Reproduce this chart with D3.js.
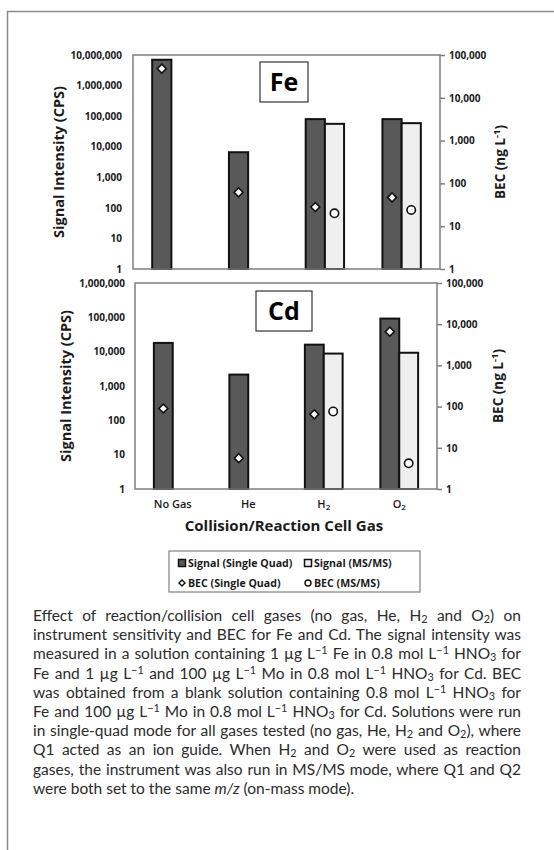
<!DOCTYPE html>
<html>
<head>
<meta charset="utf-8">
<script src="https://cdn.jsdelivr.net/npm/d3@7"></script>
<style>
  html, body { margin: 0; padding: 0; background: #fff; }
  #wrap { position: relative; width: 554px; height: 850px; overflow: hidden; }
  #wrap svg { position: absolute; left: 0; top: 0; }
  #caption {
    position: absolute; left: 33px; top: 606px; width: 488px;
    font-family: Lato, "Noto Sans", sans-serif; font-size: 15.5px;
    line-height: 19.2px; color: #2b2b2b;
  }
  #caption .ln { white-space: nowrap; height: 19.2px; }
  #caption sub, #caption sup { font-size: 0.7em; line-height: 1; }
  #caption sup { vertical-align: 0.5em; }
  #caption sub { vertical-align: -0.2em; }
</style>
</head>
<body>
<div id="wrap"></div>
<script>
// ---- data ----
const categories = ["No Gas", "He", "H2", "O2"];
const modes = ["Single Quad", "MS/MS"];

const feSignalSQ   = [7000000, 6600, 80000, 80000];
const feSignalMSMS = [null, null, 56000, 59000];
const feBecSQ      = [48000, 62, 28, 47];
const feBecMSMS    = [null, null, 20, 24];

const cdSignalSQ   = [18000, 2150, 16000, 92000];
const cdSignalMSMS = [null, null, 8800, 9300];
const cdBecSQ      = [90, 5.6, 65, 6600];
const cdBecMSMS    = [null, null, 76, 4.2];

const feSignalTicks = [1, 10, 100, 1000, 10000, 100000, 1000000, 10000000];
const cdSignalTicks = [1, 10, 100, 1000, 10000, 100000, 1000000];
const becTicks      = [1, 10, 100, 1000, 10000, 100000];

const legendItems = [
  {label: "Signal (Single Quad)", kind: "barSQ"},
  {label: "Signal (MS/MS)", kind: "barMS"},
  {label: "BEC (Single Quad)", kind: "diamond"},
  {label: "BEC (MS/MS)", kind: "circle"}
];

const captionLines = [
  "Effect of reaction/collision cell gases (no gas, He, H<sub>2</sub> and O<sub>2</sub>) on",
  "instrument sensitivity and BEC for Fe and Cd. The signal intensity was",
  "measured in a solution containing 1 µg L<sup>−1</sup> Fe in 0.8 mol L<sup>−1</sup> HNO<sub>3</sub> for",
  "Fe and 1 µg L<sup>−1</sup> and 100 µg L<sup>−1</sup> Mo in 0.8 mol L<sup>−1</sup> HNO<sub>3</sub> for Cd. BEC",
  "was obtained from a blank solution containing 0.8 mol L<sup>−1</sup> HNO<sub>3</sub> for",
  "Fe and 100 µg L<sup>−1</sup> Mo in 0.8 mol L<sup>−1</sup> HNO<sub>3</sub> for Cd. Solutions were run",
  "in single-quad mode for all gases tested (no gas, He, H<sub>2</sub> and O<sub>2</sub>), where",
  "Q1 acted as an ion guide. When H<sub>2</sub> and O<sub>2</sub> were used as reaction",
  "gases, the instrument was also run in MS/MS mode, where Q1 and Q2",
  "were both set to the same <i>m/z</i> (on-mass mode)."
];

// ---- styles ----
const FONT = "'Open Sans', 'Liberation Sans', sans-serif";
const DARK = "#595959", LIGHT = "#efefef", AXIS = "#7f7f7f", TXT = "#1a1a1a";

const wrap = d3.select("#wrap");
const svg = wrap.append("svg").attr("width", 554).attr("height", 850);

// outer frame
svg.append("path")
  .attr("d", "M7.5,850 V11.5 H554")
  .attr("fill", "none").attr("stroke", "#8a8a8a").attr("stroke-width", 1.5);

// subscript helper for gas labels
function gasLabel(sel, name) {
  const m = name.match(/^([A-Z][a-z]?)(\d)$/);
  if (m) {
    sel.append("tspan").text(m[1]);
    sel.append("tspan").text(m[2]).attr("font-size", "0.72em").attr("dy", "0.3em");
  } else {
    sel.text(name);
  }
}

function drawPanel(cfg) {
  const g = svg.append("g");
  const x0 = d3.scaleBand().domain(categories).range([cfg.left, cfg.right])
    .paddingInner(0.5).paddingOuter(0.25);
  const x1 = d3.scaleBand().domain(modes).range([0, x0.bandwidth()]);
  const yS = d3.scaleLog().domain([1, d3.max(cfg.sigTicks)]).range([cfg.bottom, cfg.top]);
  const yB = d3.scaleLog().domain([1, d3.max(becTicks)]).range([cfg.bottom, cfg.top]);

  // bars
  const barData = [];
  categories.forEach((c, i) => {
    if (cfg.sigSQ[i] != null) barData.push({c, m: modes[0], v: cfg.sigSQ[i]});
    if (cfg.sigMS[i] != null) barData.push({c, m: modes[1], v: cfg.sigMS[i]});
  });
  g.selectAll("rect.bar").data(barData).join("rect")
    .attr("class", "bar")
    .attr("x", d => x0(d.c) + x1(d.m))
    .attr("width", x1.bandwidth())
    .attr("y", d => yS(d.v))
    .attr("height", d => yS(1) - yS(d.v))
    .attr("fill", d => d.m === modes[0] ? DARK : LIGHT)
    .attr("stroke", "#111").attr("stroke-width", 2);

  // plot frame
  g.append("rect")
    .attr("x", cfg.left).attr("y", cfg.top)
    .attr("width", cfg.right - cfg.left).attr("height", cfg.bottom - cfg.top)
    .attr("fill", "none").attr("stroke", AXIS).attr("stroke-width", 1.5);

  // BEC markers
  const becSQ = categories.map((c, i) => ({c, v: cfg.becSQ[i]})).filter(d => d.v != null);
  const becMS = categories.map((c, i) => ({c, v: cfg.becMS[i]})).filter(d => d.v != null);
  g.selectAll("path.dia").data(becSQ).join("path")
    .attr("class", "dia")
    .attr("d", d3.symbol(d3.symbolSquare, 40)())
    .attr("transform", d => `translate(${x0(d.c) + x1(modes[0]) + x1.bandwidth() / 2},${yB(d.v)}) rotate(45)`)
    .attr("fill", "#fff").attr("stroke", "#111").attr("stroke-width", 1.6);
  g.selectAll("circle.bec").data(becMS).join("circle")
    .attr("class", "bec")
    .attr("cx", d => x0(d.c) + x1(modes[1]) + x1.bandwidth() / 2)
    .attr("cy", d => yB(d.v))
    .attr("r", 4.2)
    .attr("fill", "#fff").attr("stroke", "#111").attr("stroke-width", 1.6);

  // left axis
  const la = g.append("g").attr("transform", `translate(${cfg.left},0)`)
    .call(d3.axisLeft(yS).tickValues(cfg.sigTicks).tickFormat(d3.format(",")).tickSize(0).tickPadding(cfg.leftPad));
  la.select(".domain").remove();
  la.selectAll("text").attr("font-family", FONT).attr("font-weight", 700)
    .attr("font-size", 10).attr("fill", TXT);

  // right axis
  const ra = g.append("g").attr("transform", `translate(${cfg.right},0)`)
    .call(d3.axisRight(yB).tickValues(becTicks).tickFormat(d3.format(",")).tickSize(5).tickPadding(4));
  ra.select(".domain").remove();
  ra.selectAll("line").attr("stroke", AXIS).attr("stroke-width", 1.5);
  ra.selectAll("text").attr("font-family", FONT).attr("font-weight", 700)
    .attr("font-size", 10).attr("fill", TXT);

  // axis titles
  g.append("text")
    .attr("transform", `translate(${cfg.leftTitleX},${(cfg.top + cfg.bottom) / 2}) rotate(-90)`)
    .attr("text-anchor", "middle").attr("font-family", FONT).attr("font-weight", 700)
    .attr("font-size", 14.5).attr("fill", TXT)
    .text("Signal Intensity (CPS)");
  const rt = g.append("text")
    .attr("transform", `translate(${cfg.rightTitleX},${(cfg.top + cfg.bottom) / 2}) rotate(-90)`)
    .attr("text-anchor", "middle").attr("font-family", FONT).attr("font-weight", 700)
    .attr("font-size", 13.5).attr("fill", TXT);
  rt.append("tspan").text("BEC (ng L");
  rt.append("tspan").text("-1").attr("font-size", "0.7em").attr("dy", "-0.55em");
  rt.append("tspan").text(")").attr("dy", "0.38em");

  // element label box
  const b = cfg.box;
  g.append("rect").attr("x", b.x).attr("y", b.y).attr("width", b.w).attr("height", b.h)
    .attr("fill", "#fff").attr("stroke", "#333").attr("stroke-width", 1.2);
  g.append("text").attr("x", b.x + b.w / 2).attr("y", b.y + b.h / 2)
    .attr("dy", "0.36em").attr("text-anchor", "middle")
    .attr("font-family", FONT).attr("font-weight", 700).attr("font-size", 25).attr("fill", "#000")
    .text(cfg.label);

  return x0;
}

drawPanel({
  left: 133, right: 440, top: 55, bottom: 269,
  sigTicks: feSignalTicks, sigSQ: feSignalSQ, sigMS: feSignalMSMS,
  becSQ: feBecSQ, becMS: feBecMSMS, leftPad: 11,
  leftTitleX: 64, rightTitleX: 505,
  box: {x: 260, y: 62, w: 48, h: 40}, label: "Fe"
});

const xCd = drawPanel({
  left: 135, right: 437, top: 283, bottom: 489,
  sigTicks: cdSignalTicks, sigSQ: cdSignalSQ, sigMS: cdSignalMSMS,
  becSQ: cdBecSQ, becMS: cdBecMSMS, leftPad: 10,
  leftTitleX: 71, rightTitleX: 503,
  box: {x: 256, y: 291, w: 56, h: 40}, label: "Cd"
});

// category labels
categories.forEach(c => {
  const t = svg.append("text")
    .attr("x", xCd(c) + xCd.bandwidth() / 2).attr("y", 508)
    .attr("text-anchor", "middle").attr("font-family", FONT).attr("font-weight", 600)
    .attr("font-size", 11).attr("fill", TXT);
  gasLabel(t, c);
});

svg.append("text").attr("x", 284).attr("y", 531).attr("text-anchor", "middle")
  .attr("font-family", FONT).attr("font-weight", 700).attr("font-size", 15).attr("fill", TXT)
  .text("Collision/Reaction Cell Gas");

// legend
const lg = svg.append("g");
lg.append("rect").attr("x", 169).attr("y", 551).attr("width", 251).attr("height", 41)
  .attr("fill", "#fff").attr("stroke", "#8a8a8a").attr("stroke-width", 1.3);
const legX = [182, 308], legY = [563, 583];
legendItems.forEach((d, i) => {
  const cx = legX[i % 2], cy = legY[Math.floor(i / 2)];
  if (d.kind === "barSQ" || d.kind === "barMS") {
    lg.append("rect").attr("x", cx - 3.5).attr("y", cy - 3.5).attr("width", 7).attr("height", 7)
      .attr("fill", d.kind === "barSQ" ? DARK : LIGHT).attr("stroke", "#111").attr("stroke-width", 1.5);
  } else if (d.kind === "diamond") {
    lg.append("path").attr("d", d3.symbol(d3.symbolSquare, 18)())
      .attr("transform", `translate(${cx},${cy}) rotate(45)`)
      .attr("fill", "#fff").attr("stroke", "#111").attr("stroke-width", 1.4);
  } else {
    lg.append("circle").attr("cx", cx).attr("cy", cy).attr("r", 3)
      .attr("fill", "#fff").attr("stroke", "#111").attr("stroke-width", 1.4);
  }
  lg.append("text").attr("x", cx + 6).attr("y", cy).attr("dy", "0.35em")
    .attr("font-family", FONT).attr("font-weight", 700).attr("font-size", 10.6).attr("fill", TXT)
    .text(d.label);
});

// caption: each line is spread to the full column width by adjusting word spacing
const CAP_W = 488;
const cap = wrap.append("div").attr("id", "caption");
captionLines.forEach((l, i) => {
  const ln = cap.append("div").attr("class", "ln");
  const span = ln.append("span").html(l);
  if (i < captionLines.length - 1) {
    const natural = span.node().getBoundingClientRect().width;
    const gaps = (span.node().textContent.match(/ /g) || []).length;
    if (gaps > 0) span.style("word-spacing", ((CAP_W - natural) / gaps) + "px");
  }
});
</script>
</body>
</html>
